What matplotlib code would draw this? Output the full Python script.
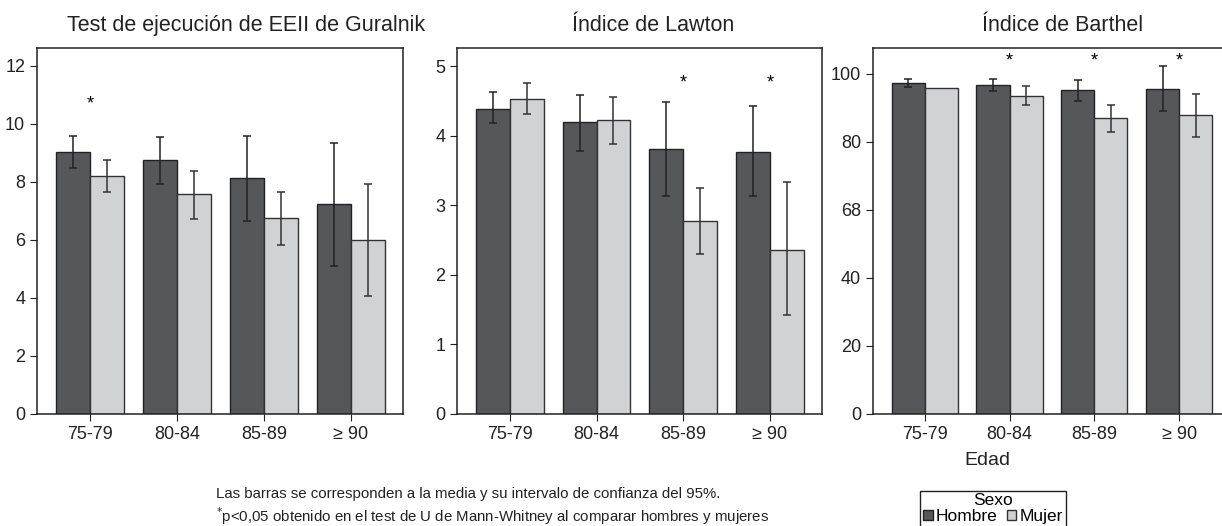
import numpy as np
import matplotlib.pyplot as plt
from matplotlib.patches import Patch

plt.rcParams['font.family'] = ['Liberation Sans', 'DejaVu Sans']

groups = ['75-79', '80-84', '85-89', '≥ 90']

# Guralnik
gur_h = [9.05, 8.76, 8.13, 7.25]
gur_h_lo = [8.49, 7.93, 6.66, 5.10]
gur_h_hi = [9.59, 9.56, 9.59, 9.34]
gur_m = [8.22, 7.60, 6.75, 6.00]
gur_m_lo = [7.67, 6.73, 5.82, 4.08]
gur_m_hi = [8.75, 8.38, 7.67, 7.93]
gur_star = [True, False, False, False]

# Lawton
law_h = [4.39, 4.20, 3.81, 3.77]
law_h_lo = [4.18, 3.78, 3.13, 3.13]
law_h_hi = [4.63, 4.58, 4.49, 4.42]
law_m = [4.52, 4.22, 2.77, 2.35]
law_m_lo = [4.31, 3.88, 2.30, 1.42]
law_m_hi = [4.76, 4.55, 3.25, 3.33]
law_star = [False, False, True, True]

# Barthel (no interval for women 75-79)
bar_h = [97.2, 96.7, 95.2, 95.6]
bar_h_lo = [96.1, 95.0, 91.8, 88.9]
bar_h_hi = [98.5, 98.5, 98.1, 102.2]
bar_m = [95.7, 93.3, 86.9, 87.7]
bar_m_lo = [95.7, 90.8, 82.8, 81.4]
bar_m_hi = [95.7, 96.2, 90.9, 93.9]
bar_star = [False, True, True, True]

titles = ['Test de ejecución de EEII de Guralnik', 'Índice de Lawton', 'Índice de Barthel']
dark = '#55575a'
light = '#d1d2d4'

W, H = 1222, 526
fig = plt.figure(figsize=(W / 100, H / 100), dpi=100)

# axes boxes in pixels: left, right
boxes = [(37, 403), (457, 822), (873, 1230)]
top, bottom = 48, 414

panels = [
    (gur_h, gur_h_lo, gur_h_hi, gur_m, gur_m_lo, gur_m_hi, gur_star, (0, 12.62), [0, 2, 4, 6, 8, 10, 12], None, 10.7, 0.571),
    (law_h, law_h_lo, law_h_hi, law_m, law_m_lo, law_m_hi, law_star, (0, 5.26), [0, 1, 2, 3, 4, 5], None, 4.76, 0.537),
    (bar_h, bar_h_lo, bar_h_hi, bar_m, bar_m_lo, bar_m_hi, bar_star, (0, 107.5), [0, 20, 40, 60, 80, 100],
     ['0', '20', '40', '68', '80', '100'], 103.6, 0.532),
]


def draw_err(ax, xs, vals, lo, hi, color):
    vals = np.array(vals); lo = np.array(lo); hi = np.array(hi)
    ok = hi > lo
    ax.errorbar(xs[ok], vals[ok], yerr=[vals[ok] - lo[ok], hi[ok] - vals[ok]], fmt='none',
                ecolor=color, elinewidth=1.1, capsize=3, capthick=1.1, zorder=3)


x = np.arange(len(groups))
w = 0.39
axes = []
for i, (box, p) in enumerate(zip(boxes, panels)):
    h, hlo, hhi, m, mlo, mhi, star, ylim, yt, ytl, sy, tx = p
    l, r = box
    ax = fig.add_axes([l / W, (H - bottom) / H, (r - l) / W, (bottom - top) / H])
    ax.bar(x - w / 2, h, w, color=dark, edgecolor='#222222', linewidth=1.0, zorder=2)
    ax.bar(x + w / 2, m, w, color=light, edgecolor='#333333', linewidth=1.0, zorder=2)
    draw_err(ax, x - w / 2, h, hlo, hhi, '#222222')
    draw_err(ax, x + w / 2, m, mlo, mhi, '#333333')
    for j, s in enumerate(star):
        if s:
            ax.text(x[j], sy, '*', ha='center', va='center', fontsize=13)
    ax.set_xlim(-0.61, 3.6)
    ax.set_ylim(*ylim)
    ax.set_yticks(yt)
    if ytl:
        ax.set_yticklabels(ytl)
    ax.set_xticks(x)
    ax.set_xticklabels(groups)
    ax.tick_params(labelsize=13, length=5, color='#222222', labelcolor='#222222')
    for sp in ax.spines.values():
        sp.set_linewidth(1.1)
        sp.set_color('#222222')
    ax.set_title(titles[i], fontsize=15.5, x=tx, pad=12, color='#222222')
    axes.append(ax)

axes[2].set_xlabel('Edad', fontsize=14, labelpad=6, color='#222222')
axes[2].xaxis.set_label_coords(0.32, -0.105)

fig.text(216 / W, 1 - 494 / H, 'Las barras se corresponden a la media y su intervalo de confianza del 95%.',
         fontsize=10.8, va='center', ha='left', color='#222222')
fig.text(216 / W, 1 - 516 / H, r'$^{*}$p<0,05 obtenido en el test de U de Mann-Whitney al comparar hombres y mujeres',
         fontsize=10.8, va='center', ha='left', color='#222222')

handles = [Patch(facecolor=dark, edgecolor='#222222', label='Hombre'),
           Patch(facecolor=light, edgecolor='#333333', label='Mujer')]
leg = fig.legend(handles=handles, title='Sexo', ncol=2, loc='upper center', bbox_to_anchor=(993 / W, 1 - 482 / H),
                 fontsize=12.5, title_fontsize=12.5, handlelength=0.55, handleheight=0.55, handletextpad=0.2,
                 columnspacing=0.5, borderpad=0.15, labelspacing=0.05, fancybox=False, framealpha=1)
leg.get_frame().set_edgecolor('#222222')
leg.get_frame().set_linewidth(1.0)

fig.savefig('out.png', dpi=100)
